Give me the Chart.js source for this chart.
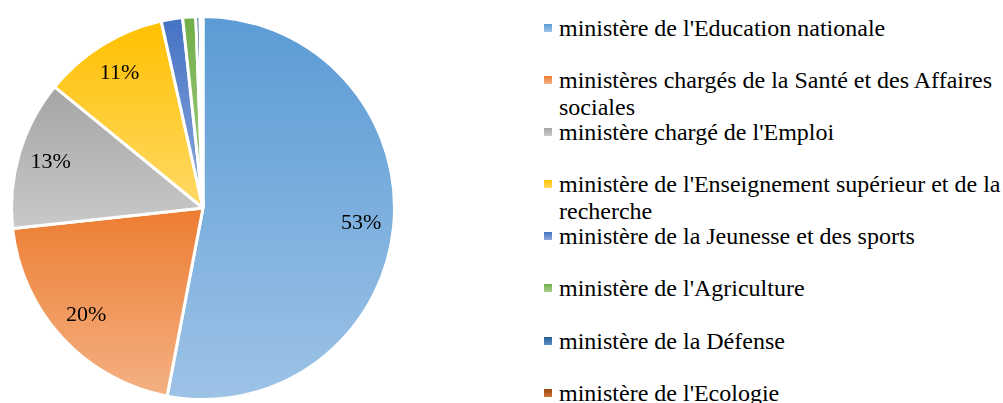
<!DOCTYPE html>
<html>
<head>
<meta charset="utf-8">
<script src="https://cdn.jsdelivr.net/npm/chart.js@4"></script>
<style>
    body { margin: 0; background: #fff; width: 1003px; height: 403px; overflow: hidden; position: relative; }
    #chartBox { position: absolute; left: 0; top: 0; width: 410px; height: 403px; }
    #legend { position: absolute; left: 544px; top: 15px; width: 459px; font-family: 'Liberation Serif', 'Times New Roman', serif; font-size: 24px; color: #000; }
    .item { position: relative; height: 52.1px; padding-left: 15px; line-height: 26.5px; box-sizing: border-box; }
    .box { position: absolute; left: 0; top: 9px; width: 8px; height: 8px; }
</style>
</head>
<body>
<div id="chartBox"><canvas id="pie"></canvas></div>
<div id="legend"></div>
<script>
// chart data
const labels = [
    "ministère de l'Education nationale",
    "ministères chargés de la Santé et des Affaires sociales",
    "ministère chargé de l'Emploi",
    "ministère de l'Enseignement supérieur et de la recherche",
    "ministère de la Jeunesse et des sports",
    "ministère de l'Agriculture",
    "ministère de la Défense",
    "ministère de l'Ecologie"
];
const shares = [53.0, 20.3, 12.6, 10.6, 1.8, 1.1, 0.35, 0.25];
const topColors = ['#5B9BD5', '#ED7D31', '#A5A5A5', '#FFC000', '#4472C4', '#70AD47', '#255E91', '#9E480E'];
const bottomColors = ['#9DC3E6', '#F4B183', '#C9C9C9', '#FFD966', '#8FAADC', '#A9D18E', '#5B8FC9', '#D0773A'];

const borderW = 3;

// vertical gradient over each slice's own bounding box
const sliceGradient = (context) => {
    const chart = context.chart;
    const area = chart.chartArea;
    const i = context.dataIndex;
    if (!area) return topColors[i];
    const cy = (area.top + area.bottom) / 2;
    const r = (Math.min(area.width, area.height) - borderW) / 2;
    const total = shares.reduce((a, b) => a + b, 0);
    let before = 0;
    for (let k = 0; k < i; k++) before += shares[k];
    const a0 = -Math.PI / 2 + before / total * Math.PI * 2;
    const a1 = a0 + shares[i] / total * Math.PI * 2;
    let ys = [cy, cy + r * Math.sin(a0), cy + r * Math.sin(a1)];
    const has = (a) => {
        for (let t = a; t < a1 + 7; t += Math.PI * 2) { if (t >= a0 && t <= a1) return true; }
        return false;
    };
    if (has(-Math.PI / 2) || has(3 * Math.PI / 2)) ys.push(cy - r);
    if (has(Math.PI / 2)) ys.push(cy + r);
    const y0 = Math.min(...ys), y1 = Math.max(...ys);
    const g = chart.ctx.createLinearGradient(0, y0, 0, y1 + 0.01);
    g.addColorStop(0, topColors[i]);
    g.addColorStop(1, bottomColors[i]);
    return g;
};

// percentage labels inside the larger slices
const pctLabels = {
    id: 'pctLabels',
    afterDatasetsDraw(chart) {
        const ctx = chart.ctx;
        const meta = chart.getDatasetMeta(0);
        ctx.save();
        ctx.font = '22px "Liberation Serif", "Times New Roman", serif';
        ctx.fillStyle = '#000';
        ctx.textAlign = 'center';
        ctx.textBaseline = 'middle';
        meta.data.forEach((arc, i) => {
            if (shares[i] < 5) return;
            const p = arc.getProps(['x', 'y', 'startAngle', 'endAngle', 'outerRadius'], true);
            const mid = (p.startAngle + p.endAngle) / 2;
            const d = p.outerRadius * 0.83;
            ctx.fillText(Math.round(shares[i]) + '%', p.x + Math.cos(mid) * d, p.y + Math.sin(mid) * d);
        });
        ctx.restore();
    }
};

new Chart(document.getElementById('pie'), {
    type: 'pie',
    data: {
        labels: labels,
        datasets: [{
            data: shares,
            backgroundColor: sliceGradient,
            borderColor: '#fff',
            borderWidth: borderW
        }]
    },
    options: {
        responsive: true,
        maintainAspectRatio: false,
        animation: false,
        layout: { padding: { left: 10, top: 15, right: 14, bottom: 2 } },
        plugins: {
            legend: { display: false },
            tooltip: { enabled: false }
        }
    },
    plugins: [pctLabels]
});

// legend on the right, as html text
const legendEl = document.getElementById('legend');
labels.forEach((name, i) => {
    const item = document.createElement('div');
    item.className = 'item';
    const box = document.createElement('span');
    box.className = 'box';
    box.style.background = `linear-gradient(${topColors[i]}, ${bottomColors[i]})`;
    item.appendChild(box);
    item.appendChild(document.createTextNode(name));
    legendEl.appendChild(item);
});
</script>
</body>
</html>
